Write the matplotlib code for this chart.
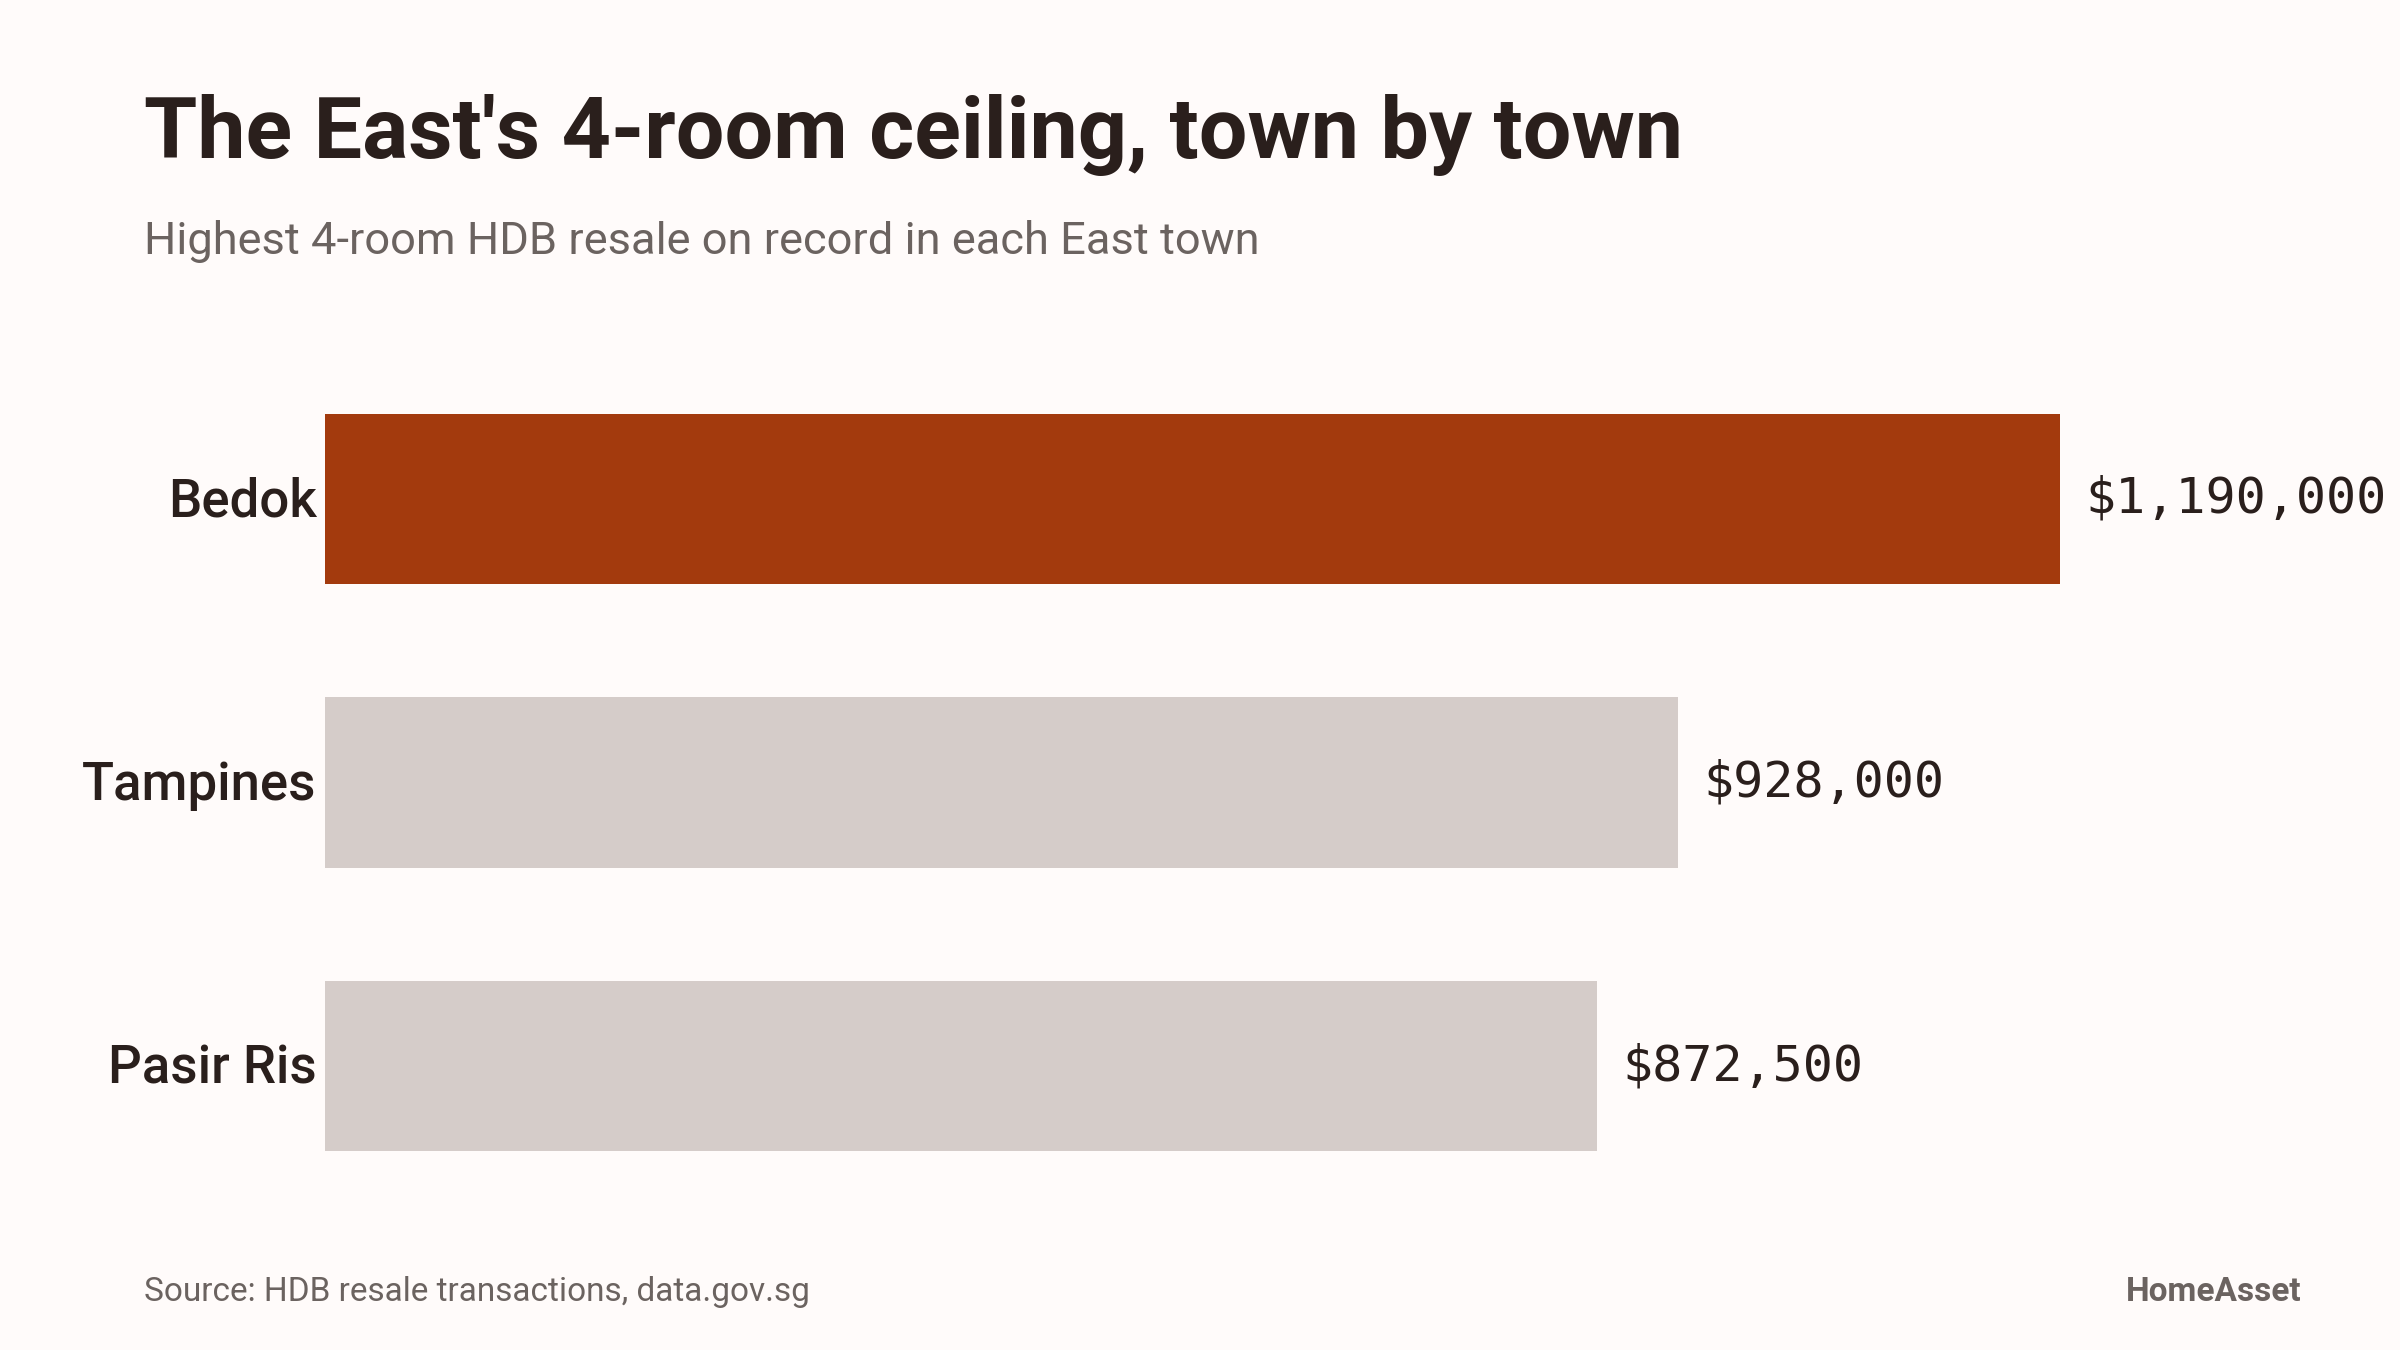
import matplotlib
matplotlib.use('Agg')
import matplotlib.pyplot as plt

# --- data ---
towns = ["Bedok", "Tampines", "Pasir Ris"]
max_prices = [1190000, 928000, 872500]
price_labels = ["$1,190,000", "$928,000", "$872,500"]
highlight_town = "Bedok"

TITLE = "The East's 4-room ceiling, town by town"
SUBTITLE = "Highest 4-room HDB resale on record in each East town"
SOURCE = "Source: HDB resale transactions, data.gov.sg"
BRAND = "HomeAsset"

# --- style ---
BG = "#fffbfa"
ACCENT = "#a33a0d"
MUTED = "#d5ccc9"
INK = "#2a1f1c"
GREY = "#6b6360"
SANS = ["Roboto", "DejaVu Sans"]
MONO = ["DejaVu Sans Mono"]

fig = plt.figure(figsize=(12, 6.75), dpi=200, facecolor=BG)
ax = fig.add_axes([0.1354, 0.1052, 0.7229, 0.6304])
ax.set_facecolor(BG)

ypos = list(range(len(towns)))
colors = [ACCENT if t == highlight_town else MUTED for t in towns]
ax.barh(ypos, max_prices, height=0.6, color=colors, edgecolor="none")

ax.set_xlim(0, max(max_prices))
ax.set_ylim(len(towns) - 0.5, -0.5)
ax.axis('off')

for y, town, val, lab in zip(ypos, towns, max_prices, price_labels):
    ax.annotate(town, xy=(0, y), xytext=(-3, -1), textcoords="offset points",
                ha="right", va="center", fontsize=19, fontweight="medium",
                color=INK, family=SANS, annotation_clip=False)
    ax.annotate(lab, xy=(val, y), xytext=(9, 0), textcoords="offset points",
                ha="left", va="center", fontsize=18, color=INK,
                family=MONO, annotation_clip=False)

fig.text(0.06, 0.883, TITLE, ha="left", va="baseline", fontsize=31,
         fontweight="bold", color=INK, family=SANS)
fig.text(0.06, 0.812, SUBTITLE, ha="left", va="baseline", fontsize=16.3,
         color=GREY, family=SANS)
fig.text(0.06, 0.043, SOURCE, ha="left", va="center", fontsize=12,
         color=GREY, family=SANS)
fig.text(0.959, 0.043, BRAND, ha="right", va="center", fontsize=12,
         fontweight="semibold", color=GREY, family=SANS)

fig.savefig("out.png", dpi=200, facecolor=BG)
